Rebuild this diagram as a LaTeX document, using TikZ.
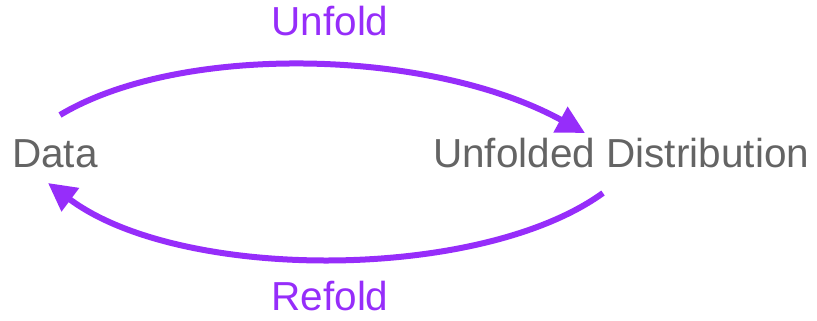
\documentclass[tikz,border=0pt]{standalone}
\usepackage{fontspec}
\setmainfont{Liberation Sans}
\usetikzlibrary{arrows.meta}
\definecolor{arcpurple}{RGB}{150,45,250}
\definecolor{txtgray}{RGB}{100,100,100}
\begin{document}
\begin{tikzpicture}[x=1pt,y=-1pt,
  lbl/.style={inner sep=0pt,anchor=base,font=\fontsize{40.5}{48}\selectfont},
  arc/.style={draw=arcpurple,line width=6pt,-{Triangle[length=28pt,width=28pt]}}]
\useasboundingbox (0,0) rectangle (817,321);
\node[lbl,txtgray,anchor=base west] (data) at (12,167) {Data};
\node[lbl,txtgray,anchor=base west] (dist) at (433,167) {Unfolded Distribution};
\node[lbl,arcpurple] (unfold) at (330,36) {Unfold};
\node[lbl,arcpurple] (refold) at (330,310) {Refold};
\coordinate (a1) at (60,115);
\coordinate (a2) at (585,133);
\coordinate (b1) at (603,193);
\coordinate (b2) at (48,183);
\draw[arc] (a1) .. controls (180,43) and (430,48) .. (a2);
\draw[arc] (b1) .. controls (480,282) and (180,282) .. (b2);
\end{tikzpicture}
\end{document}
